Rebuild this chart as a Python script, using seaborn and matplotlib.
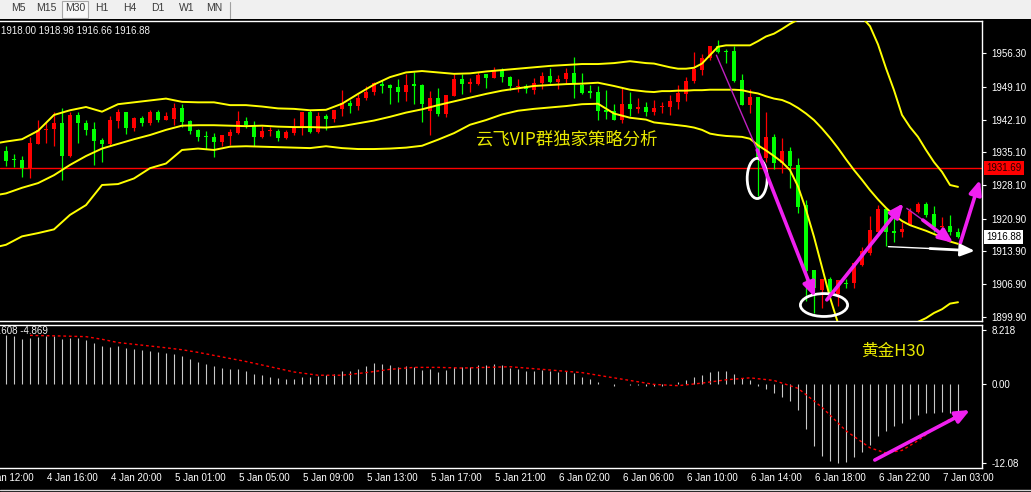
import matplotlib
matplotlib.use("Agg")
import matplotlib.pyplot as plt
import seaborn as sns
from matplotlib.patches import Ellipse, Rectangle
from matplotlib.lines import Line2D
from matplotlib.transforms import blended_transform_factory

# ---- XAUUSD M30 candles, bar 0 = first visible bar (4 Jan 13:30) ----
opens = [1935.37, 1933.45, 1933.45, 1931.67, 1936.94, 1939.95, 1940.07, 1941.35, 1934.37, 1943.06,
         1941.35, 1940.07, 1937.79, 1936.87, 1941.85, 1943.70, 1940.35, 1942.42, 1941.42, 1943.70,
         1942.06, 1942.21, 1944.48, 1941.78, 1939.86, 1938.50, 1938.36, 1937.36, 1938.65, 1939.21,
         1941.78, 1940.92, 1938.36, 1939.60, 1939.64, 1938.22, 1939.21, 1940.50, 1943.70, 1939.50,
         1942.85, 1942.21, 1944.34, 1945.62, 1945.05, 1946.69, 1947.97, 1949.68, 1949.47, 1949.04,
         1947.97, 1949.50, 1949.47, 1943.99, 1946.69, 1943.27, 1947.26, 1950.75, 1949.82, 1949.82,
         1951.82, 1951.11, 1952.46, 1951.18, 1949.18, 1949.40, 1948.54, 1949.90, 1951.39, 1950.25,
         1950.75, 1952.03, 1949.47, 1948.10, 1947.97, 1944.13, 1943.91, 1941.99, 1945.41, 1944.34,
         1944.77, 1943.77, 1944.70, 1944.84, 1945.91, 1947.54, 1950.32, 1952.67, 1955.38, 1957.80,
         1956.73, 1956.73, 1950.68, 1945.19, 1946.97, 1933.80, 1938.43, 1932.88, 1935.37, 1932.38,
         1923.83, 1909.81, 1905.68, 1907.96, 1904.82, 1907.20, 1907.10, 1911.02, 1913.51, 1918.14,
         1922.91, 1918.28, 1917.93, 1919.56, 1922.41, 1924.05, 1921.84, 1919.06, 1919.35, 1918.00]
highs = [1936.44, 1934.73, 1934.30, 1938.36, 1941.99, 1941.63, 1943.70, 1944.48, 1943.70, 1943.70,
         1941.99, 1941.56, 1938.15, 1942.85, 1944.41, 1943.70, 1942.63, 1942.78, 1944.13, 1944.13,
         1943.70, 1945.62, 1945.41, 1941.99, 1940.07, 1939.64, 1939.21, 1938.79, 1940.07, 1943.91,
         1942.63, 1941.78, 1940.71, 1940.57, 1940.07, 1939.86, 1942.42, 1943.70, 1944.13, 1943.70,
         1943.27, 1944.13, 1948.40, 1946.26, 1947.55, 1949.25, 1950.11, 1950.54, 1949.82, 1950.75,
         1951.82, 1952.25, 1949.82, 1948.19, 1948.83, 1947.47, 1951.96, 1951.82, 1950.96, 1952.32,
         1951.82, 1953.38, 1953.10, 1951.39, 1950.75, 1949.82, 1950.96, 1952.25, 1953.10, 1951.60,
         1953.10, 1955.45, 1952.03, 1949.47, 1949.25, 1948.40, 1945.41, 1948.83, 1947.97, 1946.69,
         1945.84, 1946.40, 1945.91, 1947.33, 1949.47, 1951.25, 1956.59, 1956.23, 1957.80, 1959.22,
         1957.30, 1957.80, 1951.96, 1948.75, 1946.97, 1943.77, 1939.00, 1938.07, 1936.29, 1933.80,
         1924.90, 1909.81, 1907.96, 1908.38, 1907.67, 1907.96, 1911.52, 1914.79, 1921.49, 1923.83,
         1923.12, 1921.34, 1920.27, 1923.12, 1924.55, 1924.55, 1923.62, 1921.34, 1921.70, 1918.98]
lows = [1932.17, 1931.88, 1929.89, 1929.67, 1936.94, 1937.15, 1936.44, 1929.18, 1934.02, 1937.15,
        1938.86, 1932.38, 1933.09, 1936.58, 1940.35, 1939.07, 1939.71, 1940.71, 1940.99, 1941.64,
        1941.99, 1940.92, 1940.57, 1939.00, 1937.51, 1935.80, 1934.09, 1936.44, 1936.65, 1939.07,
        1940.35, 1936.44, 1938.15, 1938.57, 1937.51, 1937.93, 1938.79, 1938.79, 1939.29, 1939.21,
        1939.86, 1941.64, 1942.85, 1943.42, 1944.13, 1946.26, 1947.33, 1947.69, 1945.41, 1945.84,
        1946.05, 1945.41, 1941.49, 1938.79, 1942.85, 1942.70, 1947.12, 1947.55, 1948.04, 1949.61,
        1948.83, 1950.96, 1950.11, 1948.40, 1947.97, 1947.69, 1947.55, 1948.61, 1949.90, 1948.61,
        1949.68, 1946.69, 1947.55, 1946.69, 1941.99, 1942.21, 1941.99, 1941.28, 1942.85, 1943.42,
        1942.85, 1943.06, 1943.56, 1943.06, 1944.27, 1946.12, 1949.96, 1951.60, 1954.81, 1956.37,
        1954.24, 1950.18, 1945.19, 1943.56, 1925.76, 1933.09, 1931.45, 1930.60, 1927.39, 1922.20,
        1903.19, 1900.69, 1901.76, 1903.54, 1902.26, 1906.03, 1906.03, 1910.66, 1913.15, 1917.78,
        1915.08, 1915.79, 1917.07, 1919.56, 1922.05, 1921.34, 1918.14, 1917.78, 1917.43, 1916.66]
closes = [1933.31, 1933.40, 1931.81, 1937.08, 1939.86, 1940.00, 1941.35, 1934.37, 1943.06, 1941.42,
          1939.93, 1937.58, 1936.94, 1941.99, 1943.70, 1940.35, 1942.42, 1941.42, 1943.70, 1942.06,
          1942.85, 1944.56, 1941.56, 1939.71, 1938.43, 1938.40, 1937.36, 1938.79, 1939.43, 1941.78,
          1940.99, 1938.43, 1939.64, 1939.72, 1938.22, 1939.43, 1940.50, 1943.70, 1939.50, 1942.85,
          1942.21, 1944.13, 1945.69, 1944.98, 1946.83, 1947.97, 1949.90, 1949.40, 1948.97, 1947.97,
          1949.47, 1949.40, 1945.41, 1946.69, 1943.27, 1947.33, 1950.75, 1949.68, 1950.11, 1951.60,
          1951.11, 1952.67, 1951.25, 1949.25, 1949.40, 1948.61, 1949.90, 1951.39, 1950.11, 1950.75,
          1952.03, 1949.90, 1947.76, 1947.90, 1943.91, 1943.70, 1941.99, 1945.41, 1944.34, 1944.70,
          1943.70, 1944.48, 1944.90, 1946.05, 1947.83, 1950.32, 1952.88, 1955.38, 1957.80, 1956.59,
          1956.60, 1950.32, 1945.19, 1946.97, 1934.02, 1938.43, 1932.88, 1935.37, 1932.24, 1923.48,
          1909.59, 1906.03, 1907.96, 1904.97, 1907.67, 1907.00, 1911.37, 1913.87, 1918.49, 1922.91,
          1918.14, 1917.78, 1918.64, 1922.62, 1924.05, 1921.70, 1919.06, 1919.35, 1917.93, 1916.88]

time_labels = ["4 Jan 12:00", "4 Jan 16:00", "4 Jan 20:00", "5 Jan 01:00", "5 Jan 05:00",
               "5 Jan 09:00", "5 Jan 13:00", "5 Jan 17:00", "5 Jan 21:00", "6 Jan 02:00",
               "6 Jan 06:00", "6 Jan 10:00", "6 Jan 14:00", "6 Jan 18:00", "6 Jan 22:00",
               "7 Jan 03:00"]
time_label_bars = list(range(-3, 118, 8))

# ---- Bollinger bands ----
band_idx = [-1] + list(range(0, 81, 2)) + list(range(81, 120))
bb_upper = [1937.1,
            1937.4, 1937.9, 1939.7, 1943.1, 1944.1, 1944.8, 1943.8, 1945.4, 1945.8, 1946.2,
            1946.6, 1945.9, 1945.8, 1945.8, 1945.2, 1945.2, 1944.9, 1944.5, 1944.4, 1944.1,
            1944.2, 1945.5, 1947.6, 1949.6, 1951.2, 1952.2, 1952.5, 1952.2, 1951.9, 1952.0,
            1952.4, 1952.7, 1953.0, 1953.3, 1953.6, 1953.8, 1954.0, 1954.0, 1954.2, 1954.6,
            1954.2,
            1954.1, 1953.7, 1953.3, 1953.0, 1953.0, 1953.2, 1954.1, 1955.9, 1957.7, 1958.0,
            1958.0, 1958.0, 1958.0, 1958.9, 1959.9, 1960.5, 1961.5, 1962.6, 1963.5, 1964.2,
            1964.8, 1965.3, 1965.6, 1965.6, 1965.4, 1964.9, 1964.0, 1962.1, 1958.2, 1953.1,
            1948.4, 1943.1, 1940.5, 1938.4, 1935.6, 1933.0, 1930.9, 1928.1, 1927.7]
bb_middle = [1926.0,
             1926.3, 1927.5, 1928.5, 1930.2, 1932.4, 1934.3, 1935.9, 1936.9, 1937.9, 1938.8,
             1939.9, 1940.8, 1940.9, 1940.9, 1940.8, 1940.7, 1940.8, 1940.6, 1940.5, 1940.5,
             1940.4, 1940.7, 1941.3, 1941.9, 1942.7, 1943.6, 1944.3, 1945.2, 1946.0, 1946.8,
             1947.6, 1948.3, 1948.8, 1949.3, 1949.5, 1949.7, 1949.8, 1950.0, 1949.3, 1948.5,
             1948.1,
             1948.0, 1948.2, 1948.2, 1948.3, 1948.3, 1948.4, 1948.4, 1948.5, 1948.5, 1948.5,
             1948.5, 1948.4, 1948.0, 1947.7, 1947.1, 1946.6, 1946.3, 1945.6, 1944.6, 1943.4,
             1942.0, 1940.2, 1938.2, 1936.0, 1933.6, 1931.3, 1929.2, 1927.0, 1925.0, 1923.2,
             1921.7, 1920.4, 1919.5, 1918.9, 1918.3, 1917.6, 1916.9, 1916.0, 1915.5]
bb_lower = [1914.9,
            1915.3, 1917.1, 1917.8, 1918.6, 1921.7, 1923.8, 1928.1, 1928.3, 1929.5, 1931.7,
            1932.7, 1935.6, 1935.9, 1935.6, 1936.3, 1936.4, 1936.3, 1936.2, 1936.1, 1936.0,
            1936.4, 1936.0, 1935.8, 1935.8, 1935.9, 1936.1, 1936.5, 1937.8, 1939.2, 1941.0,
            1942.0, 1943.2, 1944.0, 1944.4, 1944.7, 1945.0, 1945.4, 1945.5, 1943.4, 1942.5,
            1942.1,
            1941.5, 1941.3, 1941.1, 1940.9, 1940.7, 1940.4, 1939.9, 1939.1, 1938.8, 1938.6,
            1938.5, 1938.4, 1938.0, 1936.6, 1935.5, 1934.3, 1933.0, 1931.3, 1927.8, 1922.8,
            1917.0, 1910.5, 1904.0, 1898.5, 1895.8, 1894.6, 1893.9, 1893.6, 1893.8, 1894.4,
            1895.4, 1896.6, 1897.8, 1898.8, 1899.6, 1900.7, 1901.5, 1902.7, 1903.0]

# ---- MACD(12,26,9) ----
macd_hist = [7.45, 7.3, 6.85, 7.0, 7.2, 7.3, 7.3, 6.85, 7.0, 7.0,
             6.7, 6.2, 5.8, 5.6, 5.8, 5.45, 5.3, 5.15, 5.0, 4.85,
             4.7, 4.55, 4.25, 3.8, 3.3, 3.0, 2.7, 2.4, 2.2, 2.2,
             1.9, 1.5, 1.3, 1.1, 0.9, 0.8, 0.8, 1.1, 1.0, 1.2,
             1.3, 1.5, 1.9, 2.0, 2.3, 2.7, 3.1, 3.0, 2.8, 2.6,
             2.7, 2.6, 2.1, 2.2, 1.8, 2.1, 2.6, 2.6, 2.6, 2.8,
             2.8, 3.0, 2.8, 2.4, 2.2, 1.9, 1.9, 2.1, 1.9, 1.8,
             1.9, 1.6, 1.1, 0.8, 0.3, 0.0, -0.3, -0.1, -0.2, -0.2,
             -0.3, -0.4, -0.3, -0.1, 0.2, 0.6, 1.0, 1.4, 1.8, 2.0,
             1.9, 1.5, 0.9, 0.6, -0.3, -0.8, -1.4, -2.0, -2.6, -4.0,
             -7.0, -9.5, -11.0, -11.8, -12.08, -11.9, -11.2, -10.4, -9.3, -8.0,
             -7.2, -6.5, -6.0, -5.4, -4.8, -4.5, -4.5, -4.4, -4.5, -4.608]
sig_idx = [3, 7, 10, 12, 14, 17, 20, 22, 24, 27, 30, 33, 36, 39, 42, 45, 48, 51, 54, 57,
           60, 63, 66, 69, 72, 75, 78, 81, 84, 87, 90, 93, 96, 99, 102, 105, 108, 110, 112,
           114, 116, 118, 119]
sig_vals = [7.4, 7.3, 7.2, 6.8, 6.3, 5.9, 5.5, 5.2, 4.8, 4.1, 3.4, 2.6, 1.8, 1.3, 1.3, 1.7,
            2.2, 2.5, 2.5, 2.4, 2.5, 2.6, 2.3, 2.0, 1.7, 1.1, 0.5, -0.1, -0.3, 0.1, 0.6, 0.9,
            0.5, -0.7, -3.6, -7.2, -9.8, -10.6, -10.2, -8.7, -6.9, -5.4, -4.869]

price_ticks = [1956.30, 1949.10, 1942.10, 1935.10, 1928.10, 1920.90, 1913.90, 1906.90, 1899.90]
macd_ticks = [8.218, 0.0, -12.08]
macd_tick_labels = ["8.218", "0.00", "-12.08"]
hline_price = 1931.69
last_price = 1916.88
timeframes = ["M5", "M15", "M30", "H1", "H4", "D1", "W1", "MN"]

# hand-drawn marks on the screenshot (bar index, price)
thin_strokes = [((88.8, 1955.9), (93.9, 1935.6)), ((112.6, 1923.1), (114.6, 1920.6))]
pink_arrows = [((93.9, 1935.6), (101.1, 1904.1)), ((102.6, 1903.5), (112.2, 1924.2)),
               ((114.6, 1920.6), (118.4, 1915.7)), ((119.3, 1915.7), (121.75, 1929.2))]
white_arrow = ((110.3, 1914.9), (115.5, 1914.5), (121.1, 1914.0))
ellipses = [(93.9, 1929.5, 2.5, 8.6), (102.25, 1902.4, 5.9, 4.9)]
macd_arrow = ((108.6, -11.67), (120.5, -4.02))

W, H = 1031, 492


def fx(px):
    return px / W


def fy(py):
    return 1 - py / H


sns.set_style("dark", {"axes.facecolor": "black", "figure.facecolor": "black",
                       "axes.edgecolor": "white", "axes.grid": False})
plt.rcParams["font.family"] = ["Liberation Sans", "Noto Sans CJK SC", "DejaVu Sans"]

fig = plt.figure(figsize=(W / 100, H / 100), dpi=100)
ax = fig.add_axes([0, fy(321), fx(982), (321 - 20.5) / H])
axm = fig.add_axes([0, fy(468), fx(982), (468 - 324.5) / H])

# toolbar strip
fig.patches.append(Rectangle((0, fy(19)), 1, 19 / H, transform=fig.transFigure,
                             facecolor="#f0f0f0", edgecolor="none"))
fig.patches.append(Rectangle((fx(62), fy(18)), fx(26), 17 / H, transform=fig.transFigure,
                             facecolor="#f8f8f8", edgecolor="#a8a8a8", lw=0.8))
fig.lines.append(Line2D([fx(229.5)] * 2, [fy(2), fy(18)], transform=fig.transFigure,
                        color="#a0a0a0", lw=0.8))
for name, px in zip(timeframes, [18, 46, 75, 102, 130, 158, 187, 214]):
    fig.text(fx(px), fy(8), name, ha="center", va="center", fontsize=7.5, color="#3a3a3a")
fig.lines.append(Line2D([0, 1], [fy(489.5)] * 2, transform=fig.transFigure,
                        color="#d8d8d8", lw=1))

# candles (red = up, green = down)
idx = list(range(len(opens)))
colors = ["#ff0000" if c >= o else "#00ff00" for o, c in zip(opens, closes)]
bottoms = [min(o, c) for o, c in zip(opens, closes)]
heights = [max(abs(c - o), 0.22) for o, c in zip(opens, closes)]
ax.axhline(hline_price, color="#ff0000", lw=1, zorder=1.5)
ax.vlines(idx, lows, highs, colors=colors, lw=0.9, zorder=2)
ax.bar(idx, heights, bottom=bottoms, width=0.62, color=colors, linewidth=0, zorder=3)

for band in (bb_upper, bb_middle, bb_lower):
    sns.lineplot(x=band_idx, y=band, ax=ax, color="#ffff00", linewidth=1.4, zorder=4)

ax.set_xlim(-0.75, 122)
ax.set_ylim(1898.98, 1963.32)
ax.set_xlabel("")
ax.set_ylabel("")
ax.yaxis.tick_right()
ax.set_yticks(price_ticks)
ax.set_yticklabels([f"{v:.2f}" for v in price_ticks])
ax.tick_params(axis="y", colors="white", labelcolor="white", labelsize=7, length=3,
               width=0.8, pad=4, direction="out", right=True, left=False)
ax.tick_params(axis="x", bottom=False, labelbottom=False)
ax.set_xticks([])

# annotations drawn by hand on the chart
for (p0, p1) in thin_strokes:
    ax.plot([p0[0], p1[0]], [p0[1], p1[1]], color="#c020c0", lw=1.0, zorder=6)
for (p0, p1) in pink_arrows:
    ax.annotate("", xy=p1, xytext=p0, annotation_clip=False, zorder=7,
                arrowprops=dict(arrowstyle="-|>,head_length=0.7,head_width=0.3",
                                color="#f020f0", lw=2.6, mutation_scale=12,
                                shrinkA=0, shrinkB=0))
ax.plot([white_arrow[0][0], white_arrow[1][0]], [white_arrow[0][1], white_arrow[1][1]],
        color="white", lw=1.0, zorder=6)
ax.annotate("", xy=white_arrow[2], xytext=white_arrow[1], annotation_clip=False, zorder=7,
            arrowprops=dict(arrowstyle="-|>,head_length=0.7,head_width=0.3", color="white",
                            lw=2.0, mutation_scale=12, shrinkA=0, shrinkB=0))
for cx, cy, w, h in ellipses:
    ax.add_patch(Ellipse((cx, cy), w, h, fill=False, edgecolor="white", lw=2, zorder=6))

ax.text(70, 1937.84, "云飞VIP群独家策略分析", color="#e8e800", fontsize=12.5,
        family=["Noto Sans CJK SC"], ha="center", va="center", zorder=5)

trans = blended_transform_factory(ax.transAxes, ax.transData)
ax.text(1.0045, hline_price, f"{hline_price:.2f}", transform=trans, ha="left", va="center",
        fontsize=7, color="#200000", clip_on=False, zorder=10,
        bbox=dict(boxstyle="square,pad=0.2", fc="#ff0000", ec="none"))
ax.text(1.0045, last_price, f"{last_price:.2f}", transform=trans, ha="left", va="center",
        fontsize=7, color="black", clip_on=False, zorder=10,
        bbox=dict(boxstyle="square,pad=0.2", fc="white", ec="none"))

fig.text(fx(1), fy(31.5), f"{opens[-1]:.2f} {highs[-1]:.2f} {lows[-1]:.2f} {closes[-1]:.2f}",
         ha="left", va="center", fontsize=7, color="#f0f0f0")

# MACD window
axm.vlines(idx, 0, macd_hist, colors="#c8c8c8", lw=0.8, zorder=2)
axm.plot(sig_idx, sig_vals, color="#ff0000", lw=1.0, ls=(0, (2, 2)), zorder=3)
axm.annotate("", xy=macd_arrow[1], xytext=macd_arrow[0], annotation_clip=False, zorder=7,
             arrowprops=dict(arrowstyle="-|>,head_length=0.7,head_width=0.3",
                             color="#f020f0", lw=2.6, mutation_scale=12,
                             shrinkA=0, shrinkB=0))
axm.text(110.9, 5.0, "黄金H30", color="#e8e800", fontsize=12,
         family=["Noto Sans CJK SC"], ha="center", va="center")
axm.set_xlim(-0.75, 122)
axm.set_ylim(-12.89, 9.06)
axm.yaxis.tick_right()
axm.set_yticks(macd_ticks)
axm.set_yticklabels(macd_tick_labels)
axm.tick_params(axis="y", colors="white", labelcolor="white", labelsize=7, length=3,
                width=0.8, pad=4, direction="out", right=True, left=False)
axm.set_xticks([b for b in time_label_bars if b >= 0])
axm.tick_params(axis="x", colors="white", length=3, width=0.8, direction="out",
                labelbottom=False)
tl = blended_transform_factory(axm.transData, axm.transAxes)
for b, lab in zip(time_label_bars, time_labels):
    axm.text(b + 0.15, -0.072, lab, transform=tl, ha="left", va="center", fontsize=7,
             color="white", clip_on=False)
fig.text(fx(48), fy(331.5), f"{macd_hist[-1]:.3f} {sig_vals[-1]:.3f}", ha="right",
         va="center", fontsize=7, color="#f0f0f0")

for a in (ax, axm):
    a.spines["left"].set_visible(False)
    for s in ("top", "right", "bottom"):
        a.spines[s].set_color("white")
        a.spines[s].set_linewidth(1.0)

fig.savefig("out.png", dpi=100, facecolor="black")
plt.close(fig)
